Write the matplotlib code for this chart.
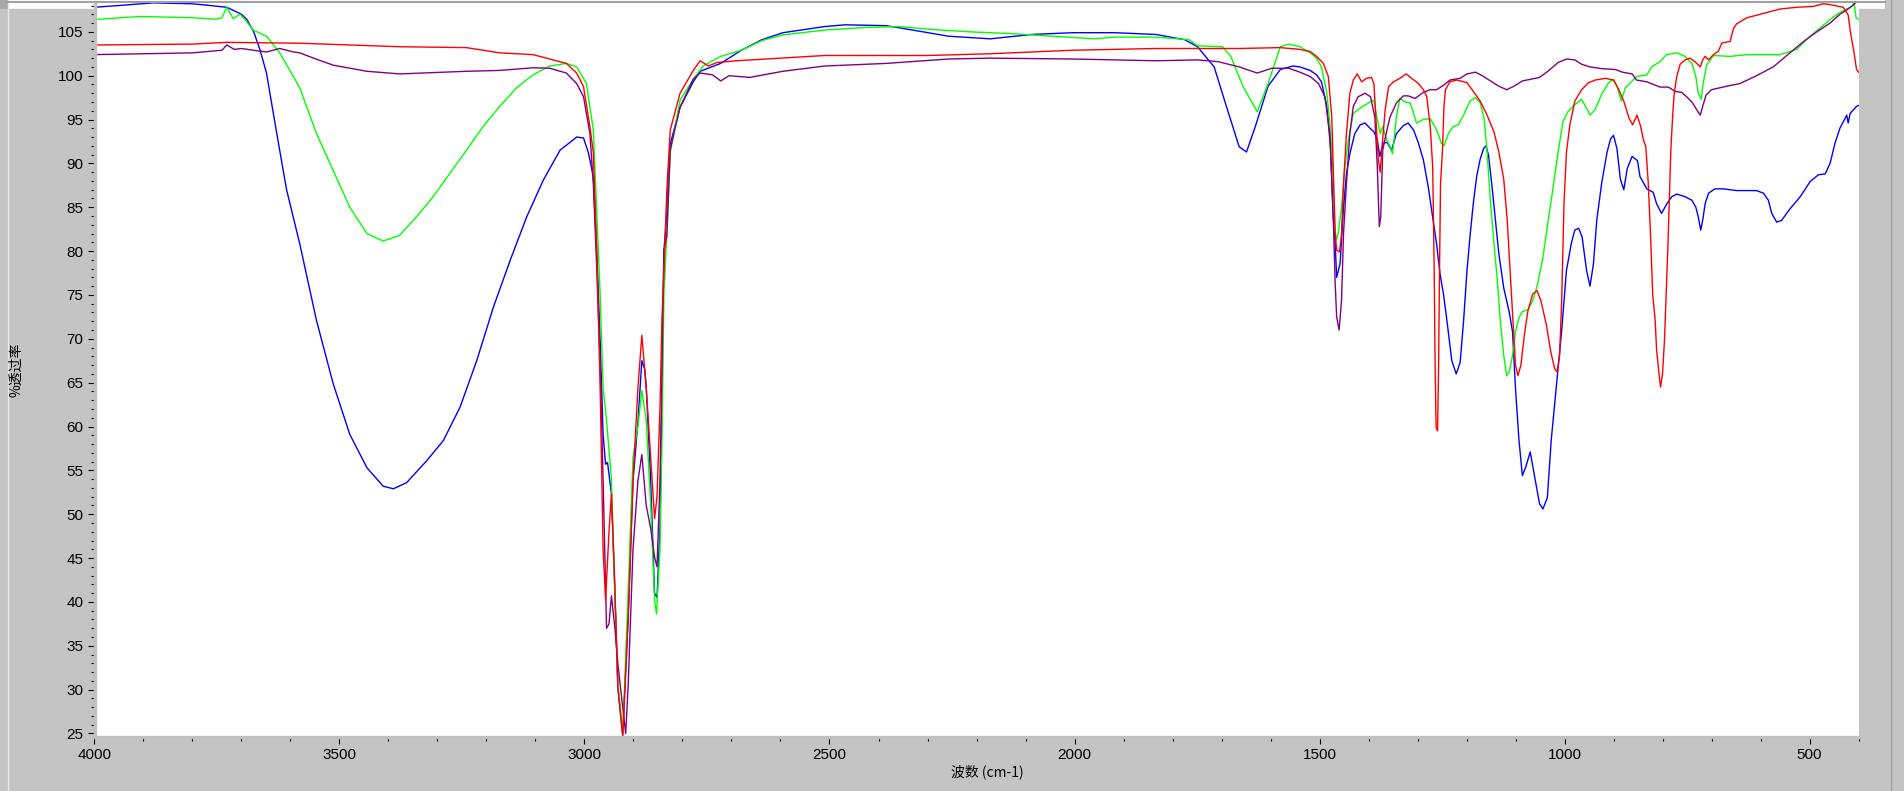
import matplotlib
matplotlib.use("Agg")
import matplotlib.pyplot as plt
from matplotlib.ticker import MultipleLocator
from matplotlib.patches import Rectangle
from matplotlib.lines import Line2D

# IR spectra, (wavenumber cm-1, %T)
blue = [(4000, 107.8), (3950, 108.0), (3880, 108.3), (3800, 108.2), (3730, 107.8), (3700, 107.0),
        (3689, 106.4), (3675, 105.0), (3662, 102.9), (3649, 100.3), (3628, 93.4), (3608, 87.0),
        (3581, 80.8), (3547, 72.1), (3513, 64.9), (3479, 59.1), (3444, 55.3), (3411, 53.2),
        (3390, 52.9), (3363, 53.6), (3322, 56.1), (3288, 58.4), (3254, 62.2), (3220, 67.5),
        (3186, 73.6), (3152, 78.9), (3118, 83.9), (3084, 88.1), (3050, 91.5), (3016, 93.0),
        (3002, 92.9), (2992, 91.2), (2982, 88.5), (2975, 80.0), (2968, 69.6), (2962, 59.1),
        (2957, 55.7), (2953, 55.9), (2945, 52.3), (2938, 41.0), (2932, 30.3), (2922, 24.8),
        (2911, 38.0), (2901, 53.8), (2891, 60.5), (2883, 67.5), (2877, 66.5), (2874, 64.5),
        (2865, 53.9), (2857, 41.0), (2852, 40.5), (2846, 48.4), (2842, 63.0), (2838, 80.0),
        (2832, 84.3), (2825, 92.2), (2805, 96.4), (2778, 99.3), (2764, 100.5), (2722, 101.4),
        (2680, 102.9), (2638, 104.1), (2595, 104.9), (2510, 105.6), (2468, 105.8), (2384, 105.7),
        (2341, 105.3), (2257, 104.5), (2172, 104.2), (2087, 104.7), (2003, 104.9), (1918, 104.9),
        (1834, 104.7), (1775, 104.1), (1749, 103.3), (1715, 101.0), (1690, 96.5), (1664, 91.9),
        (1649, 91.3), (1631, 94.2), (1605, 98.8), (1580, 100.7), (1555, 101.1), (1540, 101.0),
        (1519, 100.6), (1506, 100.1), (1496, 99.3), (1485, 96.5), (1477, 91.5), (1472, 83.9),
        (1468, 80.8), (1465, 77.0), (1458, 78.6), (1451, 85.0), (1445, 88.8), (1438, 91.1),
        (1428, 93.4), (1417, 94.4), (1407, 94.6), (1397, 94.0), (1389, 93.6), (1382, 92.7),
        (1377, 90.8), (1370, 92.3), (1362, 92.4), (1353, 91.5), (1343, 93.4), (1329, 94.3),
        (1319, 94.6), (1308, 93.8), (1298, 92.3), (1288, 90.4), (1278, 87.3), (1268, 83.5),
        (1261, 80.8), (1254, 77.4), (1247, 75.1), (1240, 72.1), (1230, 67.5), (1221, 66.0),
        (1213, 67.3), (1206, 72.0), (1199, 77.8), (1193, 81.6), (1186, 85.5), (1179, 88.6),
        (1172, 90.5), (1165, 91.7), (1160, 92.0), (1155, 90.9), (1148, 87.4), (1141, 83.6),
        (1134, 79.7), (1124, 75.8), (1113, 73.1), (1106, 70.8), (1100, 64.3), (1093, 58.5),
        (1086, 54.4), (1079, 55.4), (1070, 57.1), (1062, 54.6), (1051, 51.2), (1044, 50.6),
        (1035, 51.9), (1027, 58.5), (1017, 64.3), (1006, 70.8), (996, 77.8), (986, 80.9),
        (979, 82.4), (971, 82.6), (964, 81.6), (955, 77.8), (948, 76.0), (941, 78.5),
        (934, 83.6), (924, 87.8), (913, 91.3), (906, 92.8), (900, 93.2), (893, 91.7),
        (886, 88.2), (879, 87.0), (872, 89.4), (862, 90.8), (851, 90.3), (846, 88.5),
        (832, 87.1), (819, 86.7), (812, 85.4), (802, 84.3), (791, 85.4), (781, 86.2),
        (771, 86.5), (754, 86.2), (740, 85.8), (732, 85.0), (727, 83.9), (722, 82.4),
        (718, 83.5), (713, 85.4), (706, 86.6), (693, 87.1), (676, 87.1), (649, 86.9),
        (608, 86.9), (594, 86.6), (584, 85.8), (577, 84.3), (567, 83.3), (557, 83.5),
        (540, 84.8), (519, 86.2), (499, 87.9), (482, 88.7), (468, 88.8), (458, 90.0),
        (448, 92.3), (438, 94.0), (424, 95.5), (421, 94.6), (417, 95.7), (404, 96.5), (400, 96.6)]

green = [(4000, 106.4), (3907, 106.75), (3800, 106.6), (3751, 106.45), (3740, 106.6), (3730, 107.8),
         (3722, 107.0), (3717, 106.5), (3703, 107.0), (3690, 106.2), (3676, 105.2), (3649, 104.5),
         (3622, 102.6), (3594, 99.9), (3581, 98.6), (3547, 93.4), (3513, 89.2), (3479, 85.0),
         (3444, 82.0), (3411, 81.15), (3377, 81.8), (3343, 83.9), (3309, 86.2), (3275, 88.85),
         (3241, 91.5), (3207, 94.2), (3173, 96.5), (3139, 98.6), (3105, 100.1), (3071, 101.1),
         (3037, 101.4), (3016, 101.0), (2996, 99.1), (2982, 93.8), (2975, 84.3), (2968, 74.9),
         (2962, 64.4), (2955, 60.7), (2945, 53.9), (2938, 40.7), (2932, 31.0), (2922, 24.9),
         (2911, 41.0), (2901, 56.5), (2891, 60.0), (2883, 64.1), (2874, 60.7), (2865, 51.1),
         (2857, 40.2), (2853, 38.6), (2846, 46.0), (2842, 58.0), (2838, 75.0), (2832, 82.0),
         (2825, 91.2), (2805, 97.2), (2778, 99.6), (2758, 101.1), (2722, 102.2), (2680, 102.9),
         (2638, 104.0), (2595, 104.65), (2510, 105.2), (2426, 105.5), (2358, 105.6), (2299, 105.3),
         (2214, 105.0), (2130, 104.8), (2045, 104.5), (1960, 104.2), (1918, 104.4), (1834, 104.4),
         (1766, 104.1), (1749, 103.4), (1698, 103.3), (1681, 102.2), (1656, 98.75), (1627, 95.9),
         (1605, 99.1), (1580, 103.3), (1563, 103.6), (1540, 103.3), (1519, 102.6), (1506, 102.0),
         (1496, 101.0), (1485, 98.0), (1479, 94.6), (1473, 89.6), (1470, 83.9), (1466, 81.2),
         (1462, 82.0), (1455, 85.0), (1448, 89.6), (1441, 92.7), (1431, 95.7), (1417, 96.3),
         (1397, 97.0), (1389, 97.2), (1383, 95.3), (1376, 93.4), (1371, 94.2), (1363, 92.7),
         (1356, 91.9), (1351, 91.1), (1343, 95.3), (1336, 97.4), (1325, 97.0), (1315, 96.9),
         (1308, 95.7), (1302, 94.6), (1288, 95.0), (1274, 95.1), (1261, 93.8), (1251, 92.3),
         (1246, 92.0), (1237, 93.4), (1227, 94.2), (1217, 94.4), (1206, 95.5), (1193, 97.1),
         (1182, 97.5), (1172, 96.9), (1164, 95.1), (1158, 91.3), (1151, 85.5), (1144, 80.9),
         (1137, 76.6), (1131, 72.0), (1124, 68.1), (1118, 65.8), (1113, 66.2), (1106, 68.1),
         (1100, 70.8), (1093, 72.4), (1086, 73.1), (1075, 73.3), (1065, 74.3), (1055, 76.2),
         (1044, 79.3), (1034, 83.2), (1024, 87.0), (1013, 91.3), (1003, 94.8), (993, 95.9),
         (979, 96.7), (965, 97.3), (955, 96.3), (948, 95.5), (938, 96.1), (924, 97.9),
         (910, 99.2), (900, 99.6), (893, 98.8), (884, 97.1), (876, 98.6), (862, 99.4),
         (853, 99.9), (832, 100.1), (822, 101.0), (805, 101.6), (792, 102.4), (771, 102.6),
         (754, 102.2), (740, 101.4), (732, 99.9), (727, 98.0), (721, 97.3), (717, 99.1),
         (710, 101.2), (696, 102.3), (662, 102.2), (628, 102.4), (594, 102.4), (560, 102.4),
         (526, 103.0), (499, 104.5), (479, 105.4), (458, 106.4), (441, 107.1), (424, 107.6),
         (414, 107.9), (409, 108.3), (405, 106.6), (400, 106.4)]

red = [(4000, 103.5), (3800, 103.6), (3730, 103.8), (3581, 103.7), (3377, 103.3), (3241, 103.2),
       (3173, 102.6), (3105, 102.4), (3064, 101.8), (3037, 101.4), (3016, 100.3), (3002, 98.75),
       (2989, 94.2), (2982, 91.2), (2975, 80.1), (2968, 64.3), (2962, 46.0), (2957, 40.2),
       (2950, 48.0), (2945, 52.3), (2938, 41.8), (2932, 30.3), (2922, 24.7), (2911, 38.1),
       (2901, 53.8), (2891, 64.4), (2883, 70.4), (2874, 64.4), (2865, 56.5), (2857, 49.5),
       (2852, 52.0), (2846, 62.0), (2842, 72.2), (2838, 77.5), (2832, 87.0), (2825, 93.8),
       (2805, 98.0), (2778, 100.6), (2764, 101.7), (2747, 101.1), (2730, 101.5), (2690, 101.7),
       (2510, 102.3), (2300, 102.3), (2172, 102.5), (2003, 102.9), (1834, 103.1), (1664, 103.1),
       (1580, 103.2), (1540, 103.0), (1519, 102.75), (1506, 102.2), (1492, 101.4), (1482, 99.9),
       (1475, 95.3), (1472, 89.6), (1468, 82.0), (1465, 80.1), (1459, 79.9), (1455, 82.0),
       (1451, 87.7), (1445, 93.4), (1438, 98.0), (1431, 99.5), (1423, 100.2), (1414, 99.3),
       (1404, 99.7), (1394, 99.8), (1389, 99.1), (1385, 95.3), (1380, 90.4), (1376, 89.0),
       (1373, 91.5), (1366, 96.1), (1359, 98.75), (1349, 99.3), (1336, 99.7), (1323, 100.2),
       (1312, 99.7), (1298, 99.1), (1288, 98.4), (1281, 97.6), (1274, 94.2), (1269, 89.6),
       (1266, 78.2), (1264, 66.75), (1262, 59.9), (1259, 59.5), (1257, 66.75), (1255, 78.2),
       (1253, 87.7), (1249, 91.5), (1246, 96.5), (1243, 98.4), (1234, 99.3), (1220, 99.5),
       (1206, 99.3), (1199, 99.2), (1186, 98.2), (1172, 97.1), (1158, 95.5), (1144, 93.6),
       (1134, 91.3), (1124, 88.2), (1117, 83.6), (1111, 77.8), (1106, 73.1), (1100, 67.0),
       (1095, 65.8), (1089, 67.0), (1082, 70.4), (1075, 73.1), (1065, 75.1), (1056, 75.5),
       (1048, 74.3), (1037, 71.6), (1028, 68.5), (1020, 66.6), (1015, 66.2), (1010, 68.1),
       (1006, 73.9), (1001, 85.5), (996, 91.3), (989, 94.4), (979, 97.1), (965, 98.4),
       (951, 99.2), (937, 99.5), (917, 99.7), (900, 99.5), (889, 98.4), (879, 97.1),
       (868, 95.1), (861, 94.4), (852, 95.5), (845, 94.3), (839, 92.7), (834, 91.9),
       (829, 87.7), (824, 81.2), (820, 75.1), (815, 72.1), (812, 68.7), (806, 65.4),
       (804, 64.5), (800, 66.0), (796, 69.8), (793, 74.4), (789, 80.5), (786, 85.8),
       (783, 91.5), (779, 95.7), (776, 98.0), (771, 99.9), (764, 101.3), (754, 101.8),
       (744, 102.0), (734, 101.6), (723, 101.0), (718, 101.8), (713, 102.2), (706, 101.8),
       (696, 102.4), (686, 102.8), (679, 103.7), (672, 103.8), (662, 103.9), (655, 105.4),
       (649, 105.9), (628, 106.6), (594, 107.1), (560, 107.6), (526, 107.8), (492, 107.9),
       (472, 108.2), (458, 108.1), (431, 107.8), (421, 106.9), (416, 104.8), (409, 102.6),
       (404, 100.7), (400, 100.4)]

purple = [(4000, 102.4), (3900, 102.5), (3800, 102.6), (3760, 102.8), (3740, 102.9), (3730, 103.5),
          (3715, 103.0), (3700, 103.1), (3676, 102.9), (3649, 102.7), (3622, 103.1), (3594, 102.7),
          (3581, 102.6), (3553, 102.0), (3513, 101.2), (3444, 100.5), (3377, 100.2), (3309, 100.35),
          (3241, 100.5), (3173, 100.6), (3105, 100.9), (3071, 100.85), (3037, 100.3), (3016, 99.1),
          (3002, 97.6), (2989, 93.4), (2982, 87.7), (2975, 78.0), (2968, 67.0), (2962, 53.8),
          (2955, 37.0), (2950, 37.5), (2945, 40.7), (2938, 37.0), (2932, 33.0), (2922, 28.0),
          (2916, 25.0), (2911, 30.3), (2901, 46.0), (2891, 53.8), (2883, 56.8), (2874, 51.0),
          (2865, 48.4), (2857, 45.1), (2852, 44.0), (2846, 53.8), (2842, 66.0), (2838, 80.0),
          (2832, 81.7), (2825, 91.6), (2805, 96.4), (2778, 99.6), (2764, 100.3), (2739, 100.1),
          (2722, 99.4), (2705, 100.0), (2663, 99.8), (2595, 100.5), (2510, 101.1), (2384, 101.4),
          (2257, 101.9), (2172, 102.0), (2003, 101.9), (1834, 101.7), (1749, 101.8), (1707, 101.6),
          (1664, 101.0), (1627, 100.3), (1597, 100.85), (1563, 100.85), (1540, 100.4), (1519, 99.9),
          (1502, 99.1), (1489, 97.6), (1479, 93.4), (1472, 83.9), (1468, 76.3), (1465, 72.5),
          (1460, 71.0), (1455, 74.4), (1451, 82.0), (1445, 87.7), (1438, 93.4), (1431, 96.5),
          (1421, 97.6), (1407, 98.0), (1396, 97.6), (1387, 95.3), (1382, 89.6), (1378, 82.8),
          (1375, 83.9), (1371, 91.5), (1364, 93.4), (1356, 95.3), (1343, 96.9), (1329, 97.7),
          (1319, 97.7), (1305, 97.4), (1288, 98.1), (1274, 98.4), (1261, 98.4), (1247, 98.9),
          (1234, 99.5), (1213, 99.7), (1199, 100.2), (1182, 100.4), (1168, 100.0), (1151, 99.4),
          (1134, 98.8), (1118, 98.4), (1103, 98.8), (1086, 99.4), (1068, 99.6), (1051, 99.8),
          (1034, 100.5), (1013, 101.5), (996, 101.9), (979, 101.8), (965, 101.3), (948, 101.0),
          (924, 100.8), (896, 100.7), (882, 100.4), (862, 100.2), (853, 99.5), (832, 99.3),
          (805, 98.7), (788, 98.7), (774, 98.2), (761, 98.1), (751, 97.6), (740, 97.0),
          (730, 96.1), (723, 95.5), (718, 96.5), (711, 97.8), (700, 98.4), (669, 98.8),
          (642, 99.1), (608, 100.0), (574, 101.0), (540, 102.6), (512, 103.9), (485, 105.0),
          (458, 106.0), (438, 107.0), (424, 107.5), (414, 107.9), (402, 108.5), (400, 108.5)]

series = [(blue, '#0000ff'), (green, '#00ff00'), (purple, '#800080'), (red, '#ff0000')]

W, H = 1904, 791
fig = plt.figure(figsize=(W / 100, H / 100), dpi=100)
fig.patch.set_facecolor('white')


def fx(px):
    return px / W


def fy(py):
    return 1 - py / H


ax = fig.add_axes([fx(94.5), fy(737), (1858.5 - 94.5) / W, (737 - 2) / H])

for data, col in series:
    wn = [p[0] for p in data]
    t = [p[1] for p in data]
    ax.plot(wn, t, color=col, lw=1.0)

ax.set_xlim(4000, 400)
ax.set_ylim(24.6, 108.4)
ax.xaxis.set_major_locator(MultipleLocator(500))
ax.xaxis.set_minor_locator(MultipleLocator(100))
ax.yaxis.set_major_locator(MultipleLocator(5))
ax.yaxis.set_minor_locator(MultipleLocator(1))

for side in ['top', 'right']:
    ax.spines[side].set_visible(False)
for side in ['left', 'bottom']:
    ax.spines[side].set_color('#c0c0c0')
    ax.spines[side].set_linewidth(2.4)

ax.tick_params(which='major', direction='out', length=5, width=0.8, color='black',
               labelsize=11, pad=3)
ax.tick_params(which='minor', direction='out', length=3, width=0.8, color='black')
for lab in ax.get_xticklabels() + ax.get_yticklabels():
    lab.set_family('Liberation Sans')

cjk = ['Noto Sans CJK SC', 'DejaVu Sans']
fig.text(fx(987), fy(772), '波数 (cm-1)', ha='center', va='center', fontsize=10, family=cjk)
fig.text(fx(16), fy(370), '%透过率', rotation=90, ha='center', va='center', fontsize=10, family=cjk)

# window frame bits round the plot
fig.add_artist(Rectangle((0, 0), fx(7), 1, transform=fig.transFigure, color='#a8a8a8', zorder=0))
fig.add_artist(Line2D([fx(7.5), fx(7.5)], [0, 1], transform=fig.transFigure, color='#e8e8e8', lw=1))
fig.add_artist(Rectangle((fx(1885), 0), 1 - fx(1885), 1, transform=fig.transFigure,
                         color='#c4c4c4', zorder=0))
fig.add_artist(Line2D([fx(1891), fx(1891)], [0, 1], transform=fig.transFigure, color='#a0a0a0', lw=1))
fig.add_artist(Rectangle((0, 0), 1, 1 - fy(782), transform=fig.transFigure, color='#c4c4c4', zorder=0))
fig.add_artist(Line2D([fx(7), fx(1885)], [fy(2), fy(2)], transform=fig.transFigure,
                      color='#a0a0a0', lw=1.5))

fig.savefig('out.png', dpi=100)
